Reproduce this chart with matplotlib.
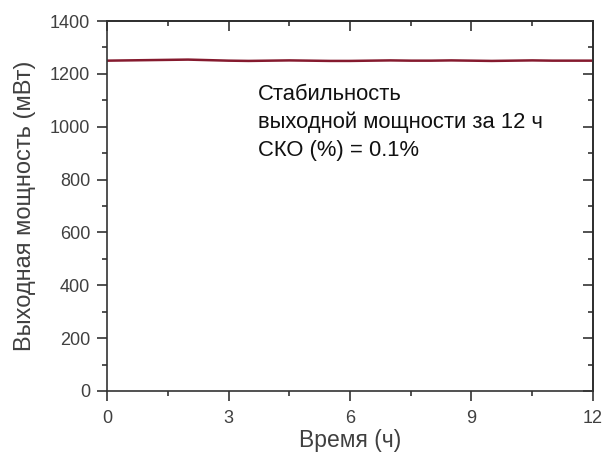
import matplotlib
matplotlib.use("Agg")
import matplotlib.pyplot as plt
from matplotlib.ticker import MultipleLocator

plt.rcParams["font.family"] = ["Liberation Sans", "DejaVu Sans"]

# time (h) and output power (mW)
hours = [0, 0.5, 1, 1.5, 2, 2.5, 3, 3.5, 4, 4.5, 5, 5.5, 6,
         6.5, 7, 7.5, 8, 8.5, 9, 9.5, 10, 10.5, 11, 11.5, 12]
power = [1250, 1251, 1252, 1253, 1254, 1252, 1250, 1249, 1250, 1251, 1250, 1249, 1249,
         1250, 1251, 1250, 1250, 1251, 1250, 1249, 1250, 1251, 1250, 1250, 1250]

x_ticks = [0, 3, 6, 9, 12]
y_ticks = [0, 200, 400, 600, 800, 1000, 1200, 1400]
note = "Стабильность\nвыходной мощности за 12 ч\nСКО (%) = 0.1%"

grey = "#404040"

fig = plt.figure(figsize=(6.06, 4.55), dpi=100)
ax = fig.add_axes([0.1766, 0.1407, 0.8019, 0.8131])

ax.plot(hours, power, color="#851a2e", linewidth=1.8)

ax.set_xlim(0, 12)
ax.set_ylim(0, 1400)
ax.set_xticks(x_ticks)
ax.set_yticks(y_ticks)
ax.xaxis.set_minor_locator(MultipleLocator(1.5))
ax.yaxis.set_minor_locator(MultipleLocator(100))

ax.tick_params(which="both", direction="out", top=False, right=False,
               labelsize=13, colors="#333333", labelcolor=grey, width=1.2)
ax.tick_params(which="major", length=7, pad=5)
ax.tick_params(axis="x", which="major", pad=7)
ax.tick_params(which="minor", length=3.5)

# mirrored inward ticks on top and right
sec_x = ax.secondary_xaxis("top")
sec_x.set_xticks(x_ticks)
sec_x.xaxis.set_minor_locator(MultipleLocator(1.5))
sec_x.tick_params(which="both", direction="in", labeltop=False, width=1.2, colors="#333333")
sec_x.tick_params(which="major", length=7)
sec_x.tick_params(which="minor", length=3.5)
sec_y = ax.secondary_yaxis("right")
sec_y.set_yticks(y_ticks)
sec_y.yaxis.set_minor_locator(MultipleLocator(100))
sec_y.tick_params(which="both", direction="in", labelright=False, width=1.2, colors="#333333")
sec_y.tick_params(which="major", length=7)
sec_y.tick_params(which="minor", length=3.5)

for sp in ax.spines.values():
    sp.set_linewidth(1.2)
    sp.set_color("#333333")
sec_x.spines["top"].set_linewidth(1.2)
sec_y.spines["right"].set_linewidth(1.2)

ax.set_xlabel("Время (ч)", fontsize=16.5, color=grey, labelpad=1)
ax.set_ylabel("Выходная мощность (мВт)", fontsize=17, color=grey, labelpad=10)

ax.text(0.311, 0.83, note, transform=ax.transAxes, fontsize=15.8,
        color="#111111", va="top", ha="left", linespacing=1.42)

fig.savefig("out.png", dpi=100)
